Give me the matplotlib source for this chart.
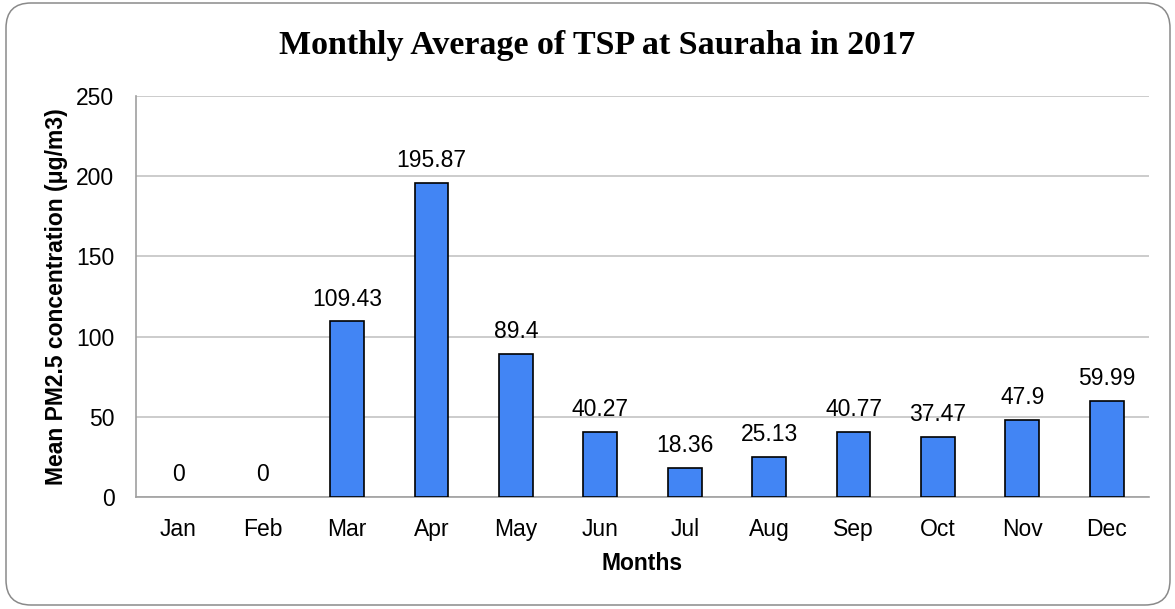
import matplotlib
matplotlib.use("Agg")
import matplotlib.pyplot as plt
from matplotlib.patches import FancyBboxPatch

months = ["Jan", "Feb", "Mar", "Apr", "May", "Jun", "Jul", "Aug", "Sep", "Oct", "Nov", "Dec"]
values = [0, 0, 109.43, 195.87, 89.4, 40.27, 18.36, 25.13, 40.77, 37.47, 47.9, 59.99]
labels = ["0", "0", "109.43", "195.87", "89.4", "40.27", "18.36", "25.13", "40.77", "37.47", "47.9", "59.99"]
yticks = [0, 50, 100, 150, 200, 250]

plt.rcParams['font.family'] = ['Liberation Sans', 'DejaVu Sans']
FS = 16.5

W, H = 1175, 609
fig = plt.figure(figsize=(W/100, H/100), dpi=100)
ax = fig.add_axes([136/W, 1 - 497/H, (1149-136)/W, (497-96)/H])

# rounded outer border
r = 25
border = FancyBboxPatch((6 + r, 4 + r), (1170 - 6) - 2*r, (606 - 4) - 2*r,
                        boxstyle=f"round,pad={r},rounding_size={r}",
                        facecolor='none', edgecolor='#8a8a8a', linewidth=1.1)
border.set_transform(matplotlib.transforms.IdentityTransform())
fig.patches.append(border)

x = list(range(len(months)))
edges = ['black' if v > 0 else 'none' for v in values]
ax.bar(x, values, width=0.4, color='#4285F4', edgecolor=edges, linewidth=1.2, zorder=3)
for xi, v, lab in zip(x, values, labels):
    ax.annotate(lab, (xi, v), xytext=(0, 11.5), textcoords='offset points',
                ha='center', va='baseline', fontsize=FS, color='black')

ax.set_xlim(-0.5, 11.5)
ax.set_ylim(0, 250)
ax.set_yticks(yticks)
ax.set_xticks(x)
ax.set_xticklabels(months)
ax.tick_params(axis='both', labelsize=FS, length=0, colors='black')
ax.tick_params(axis='y', pad=15.5)
ax.tick_params(axis='x', pad=15)
ax.grid(axis='y', color='#c4c4c4', linewidth=1.2, zorder=0)
for s in ['top', 'right']:
    ax.spines[s].set_visible(False)
for s in ['left', 'bottom']:
    ax.spines[s].set_color('#a0a0a0')
    ax.spines[s].set_linewidth(1.2)

ax.set_xlabel("Months", fontsize=FS, fontweight='bold', labelpad=8)
ax.set_ylabel("Mean PM2.5 concentration (μg/m3)", fontsize=FS, fontweight='bold', labelpad=6)

title = fig.text(597/W, 1 - 54/H, "Monthly Average of TSP at Sauraha in 2017",
                 ha='center', va='baseline', fontsize=22, fontweight='bold',
                 family=['Liberation Serif'])
fig.canvas.draw()
bb = title.get_window_extent()
title.set_fontsize(22 * 636 / bb.width)

fig.savefig("out.png", dpi=100)
